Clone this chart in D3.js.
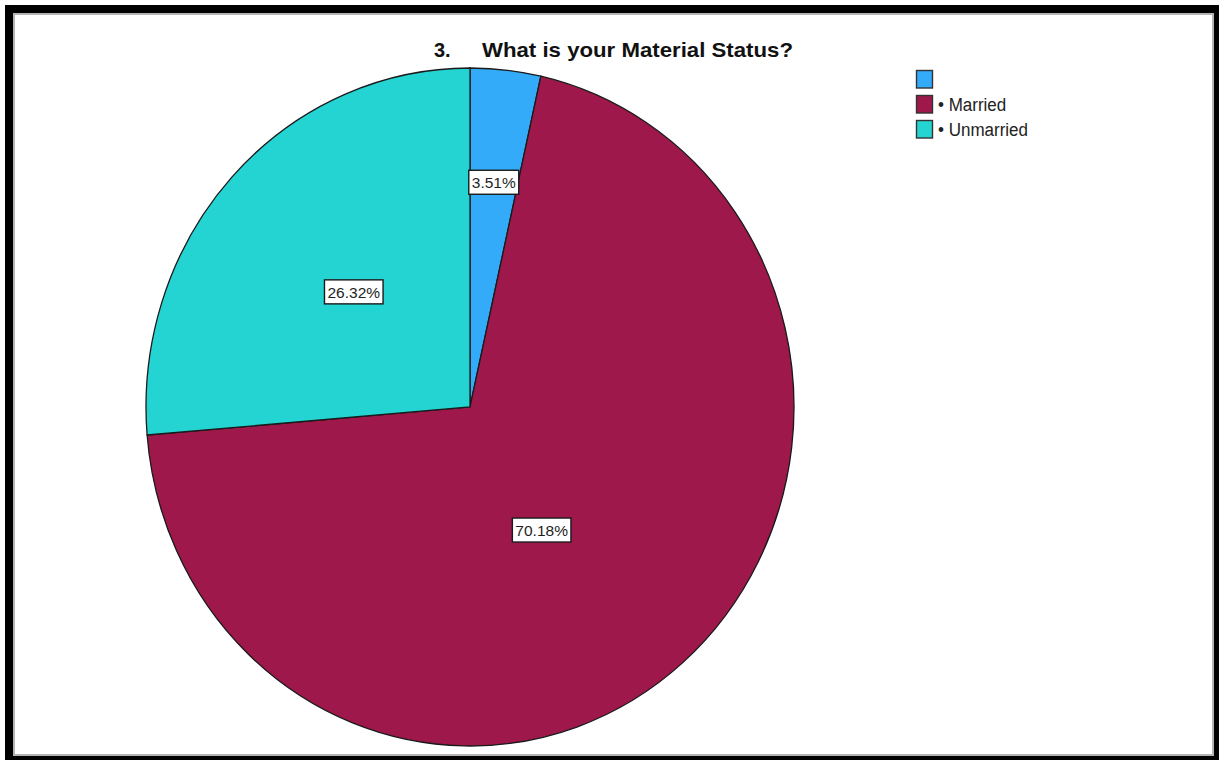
<!DOCTYPE html>
<html>
<head>
<meta charset="utf-8">
<script src="https://cdn.jsdelivr.net/npm/d3@7"></script>
<style>
  html, body { margin: 0; padding: 0; background: #fff; }
  svg { display: block; }
</style>
</head>
<body>
<svg id="chart" width="1221" height="760"></svg>
<script>
// Survey responses, question 3
const categories = ["", "Married", "Unmarried"];
const counts = [2, 40, 15];
const percentLabels = ["3.51%", "70.18%", "26.32%"];
const legendLabels = ["", "\u2022 Married", "\u2022 Unmarried"];
const colors = ["#33abf9", "#9e184b", "#23d4d2"];

const svg = d3.select("#chart");

// Framed panel
svg.append("rect").attr("x", 5).attr("y", 5).attr("width", 1214).attr("height", 755).attr("fill", "#000");
svg.append("rect").attr("x", 13).attr("y", 13).attr("width", 1201).attr("height", 743).attr("fill", "#b4b4b4");
svg.append("rect").attr("x", 15).attr("y", 15).attr("width", 1197).attr("height", 739).attr("fill", "#fff");

// Title
const title = svg.append("text")
  .attr("transform", "translate(0,57) scale(1,1.05)")
  .attr("font-family", "Liberation Sans, Arial, sans-serif")
  .attr("font-weight", "bold")
  .attr("font-size", 20)
  .attr("fill", "#111");
title.append("tspan").attr("x", 434).text("3.");
title.append("tspan").attr("x", 482).attr("textLength", 311).attr("lengthAdjust", "spacingAndGlyphs").text("What is your Material Status?");

// Pie (slightly taller than wide)
const cx = 470, cy = 407, rx = 324, ry = 339;
const pie = d3.pie().sort(null).value(d => d)(counts);
const arc = d3.arc().innerRadius(0).outerRadius(rx);

const g = svg.append("g").attr("transform", `translate(${cx},${cy}) scale(1,${ry / rx})`);
g.selectAll("path")
  .data(pie)
  .join("path")
  .attr("d", arc)
  .attr("fill", (d, i) => colors[i])
  .attr("stroke", "#1a1a1a")
  .attr("stroke-width", 1.3)
  .attr("vector-effect", "non-scaling-stroke");

// Value labels: radius fraction and angle shift for each slice
const labelPlacement = [
  { r: 0.667, shift: 0 },
  { r: 0.425, shift: 9.7 },
  { r: 0.494, shift: 0.8 }
];
const labels = svg.append("g");
pie.forEach((d, i) => {
  const a = (d.startAngle + d.endAngle) / 2 + labelPlacement[i].shift * Math.PI / 180;
  const rr = rx * labelPlacement[i].r;
  const x = cx + Math.sin(a) * rr;
  const y = cy - Math.cos(a) * rr * (ry / rx);
  const lg = labels.append("g").attr("transform", `translate(${x},${y})`);
  const t = lg.append("text")
    .attr("text-anchor", "middle")
    .attr("dy", "0.37em")
    .attr("font-family", "Liberation Sans, Arial, sans-serif")
    .attr("font-size", 15.5)
    .attr("fill", "#1e1e1e")
    .text(percentLabels[i]);
  const w = t.node().getComputedTextLength() + 6;
  lg.insert("rect", "text")
    .attr("x", -w / 2).attr("y", -12)
    .attr("width", w).attr("height", 24)
    .attr("fill", "#fff")
    .attr("stroke", "#1a1a1a")
    .attr("stroke-width", 1.4);
});

// Legend
const legend = svg.append("g").attr("transform", "translate(916,70)");
const rows = legend.selectAll("g")
  .data(categories)
  .join("g")
  .attr("transform", (d, i) => `translate(0,${i * 25})`);
rows.append("rect")
  .attr("x", 0.5).attr("y", 0.5)
  .attr("width", 16).attr("height", 17.5)
  .attr("fill", (d, i) => colors[i])
  .attr("stroke", "#333")
  .attr("stroke-width", 1.4);
rows.append("text")
  .attr("transform", "translate(22,16) scale(1,1.05)")
  .attr("font-family", "Liberation Sans, Arial, sans-serif")
  .attr("font-size", 17)
  .attr("fill", "#222")
  .text((d, i) => legendLabels[i]);
</script>
</body>
</html>
